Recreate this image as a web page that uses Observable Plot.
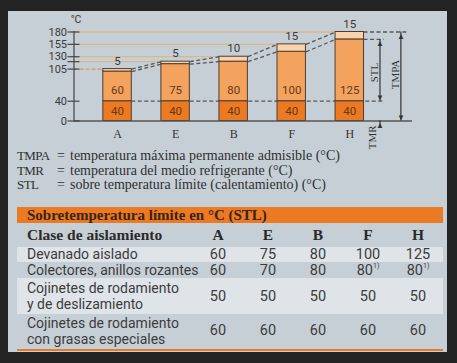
<!DOCTYPE html>
<html><head><meta charset="utf-8">
<script src="https://cdn.jsdelivr.net/npm/d3@7"></script>
<script src="https://cdn.jsdelivr.net/npm/@observablehq/plot@0.6"></script>
<style>
html,body{margin:0;padding:0;background:#232323;width:457px;height:363px;overflow:hidden;position:relative;}
#panel{position:absolute;left:8px;top:11px;width:439px;height:341px;background:#c6cfd6;}
#chart{position:absolute;left:0;top:0;}
.leg{position:absolute;font-family:"Liberation Serif",serif;font-size:14px;color:#2f2f2f;line-height:14px;white-space:nowrap;}
.abbr{font-size:13px;letter-spacing:-0.6px;}
#table{position:absolute;left:17px;top:207px;width:426px;}
.trow{display:grid;grid-template-columns:176px 50px 50px 50px 50px 50px;align-items:center;}
.tcell{text-align:center;font-family:Roboto,sans-serif;font-size:14.5px;line-height:15px;color:#3c3c3c;white-space:nowrap;}
.tlab{padding-left:10px;font-family:Roboto,sans-serif;font-size:14px;color:#3c3c3c;line-height:16px;white-space:nowrap;}
.hdr{font-family:"Liberation Serif",serif;font-weight:bold;font-size:15.5px;color:#2a2a2a;line-height:18px;}
sup{font-size:7px;line-height:7px;vertical-align:top;}
</style></head><body>
<div id="panel"></div>
<div id="chart"></div>
<div id="legend"></div>
<div id="table"></div>
<script>
// ---- chart data ----
const categories = ["A", "E", "B", "F", "H"];
const tmr = [40, 40, 40, 40, 40];
const stl = [60, 75, 80, 100, 125];
const reserve = [5, 5, 10, 15, 15];
const yTickValues = [0, 40, 105, 120, 130, 155, 180];
const yTickLabels = ["0", "40", "105", "", "130", "155", "180"];

// ---- legend ----
const legendAbbr = ["TMPA", "TMR", "STL"];
const legendText = [
  "temperatura máxima permanente admisible (°C)",
  "temperatura del medio refrigerante (°C)",
  "sobre temperatura límite (calentamiento) (°C)"
];

// ---- table data ----
const tableTitle = "Sobretemperatura límite en °C (STL)";
const tableHeader = "Clase de aislamiento";
const tableClasses = ["A", "E", "B", "F", "H"];
const rowLabels = [
  ["Devanado aislado"],
  ["Colectores, anillos rozantes"],
  ["Cojinetes de rodamiento", "y de deslizamiento"],
  ["Cojinetes de rodamiento", "con grasas especiales"]
];
const rowValues = [
  ["60", "75", "80", "100", "125"],
  ["60", "70", "80", "80", "80"],
  ["50", "50", "50", "50", "50"],
  ["60", "60", "60", "60", "60"]
];
const rowNotes = [
  ["", "", "", "", ""],
  ["", "", "", "1)", "1)"],
  ["", "", "", "", ""],
  ["", "", "", "", ""]
];

// ---- build chart ----
const bars = categories.map((c, i) => ({
  c, i, tmr: tmr[i], stl: stl[i], res: reserve[i],
  stlTop: tmr[i] + stl[i], total: tmr[i] + stl[i] + reserve[i]
}));
const last = bars[bars.length - 1];
const pairs = bars.slice(0, -1).map((a, k) => ({a, b: bars[k + 1]}));
const hw = 0.245;        // half bar width (band units)
const axisX = -0.75;     // position of the y axis
const stlX = 4.52, tmpaX = 4.88;
const dash = "#575757";
const guide = "#d9b98c";
const serif = "Liberation Serif, serif";
const sans = "Roboto, sans-serif";
const labeledTicks = yTickValues.filter((d, i) => yTickLabels[i] !== "");

const plot = Plot.plot({
  width: 457, height: 155,
  marginLeft: 73.5, marginRight: 45, marginTop: 31.5, marginBottom: 34.5,
  style: {background: "transparent", overflow: "visible"},
  x: {type: "linear", domain: [axisX, 5.08]},
  y: {domain: [0, 180]},
  marks: [
    // guide lines from axis to bar tops
    Plot.ruleY(bars.slice(1), {y: "total", x1: axisX, x2: "i", stroke: guide, strokeWidth: 1.3}),
    Plot.ruleY(bars.slice(0, 1), {y: "total", x1: axisX, x2: "i", stroke: "#d99a55", strokeWidth: 1.3, strokeDasharray: "4,2"}),
    // dashed TMR line
    Plot.ruleY([tmr[0]], {x1: hw, x2: stlX + 0.07, stroke: dash, strokeWidth: 1.3, strokeDasharray: "4,2.5"}),
    // dashed connectors
    Plot.link(pairs, {x1: p => p.a.i + hw, y1: p => p.a.total, x2: p => p.b.i - hw, y2: p => p.b.total, stroke: dash, strokeWidth: 1.3, strokeDasharray: "4,2.5"}),
    Plot.link(pairs, {x1: p => p.a.i + hw, y1: p => p.a.stlTop, x2: p => p.b.i - hw, y2: p => p.b.stlTop, stroke: dash, strokeWidth: 1.3, strokeDasharray: "4,2.5"}),
    Plot.ruleY([last], {y: "total", x1: d => d.i + hw, x2: tmpaX + 0.1, stroke: dash, strokeWidth: 1.3, strokeDasharray: "4,2.5"}),
    Plot.ruleY([last], {y: "stlTop", x1: d => d.i + hw, x2: stlX + 0.07, stroke: dash, strokeWidth: 1.3, strokeDasharray: "4,2.5"}),
    // stacked bars
    Plot.rect(bars, {x1: d => d.i - hw, x2: d => d.i + hw, y1: 0, y2: "tmr", fill: "#ec7a22", stroke: "#4d3e35", strokeWidth: 1}),
    Plot.rect(bars, {x1: d => d.i - hw, x2: d => d.i + hw, y1: "tmr", y2: "stlTop", fill: "#f4a35e", stroke: "#4d3e35", strokeWidth: 1}),
    Plot.rect(bars, {x1: d => d.i - hw, x2: d => d.i + hw, y1: "stlTop", y2: "total", fill: "#fbd3ab", stroke: "#4d3e35", strokeWidth: 1}),
    // bar labels
    Plot.text(bars, {x: "i", y: d => d.tmr / 2, text: "tmr", fill: "#6a3714", fontSize: 11.5, fontFamily: sans}),
    Plot.text(bars, {x: "i", y: 63, text: "stl", fill: "#6a3714", fontSize: 11.5, fontFamily: sans}),
    Plot.text(bars, {x: "i", y: "total", dy: -8, text: "res", fill: "#3a3a3a", fontSize: 11.5, fontFamily: sans}),
    // baseline and y axis
    Plot.ruleY([0], {stroke: "#555", strokeWidth: 1.3}),
    Plot.ruleX([axisX], {y1: 0, y2: 181, stroke: "#444", strokeWidth: 1.2}),
    Plot.ruleY(yTickValues, {x1: axisX, x2: axisX, insetLeft: -6, insetRight: -6, stroke: "#444", strokeWidth: 1.2}),
    Plot.axisY(labeledTicks, {tickSize: 0, tickPadding: 7, tickFormat: d => yTickLabels[yTickValues.indexOf(d)], fontSize: 11, fontFamily: sans, fill: "#3a3a3a", label: null}),
    Plot.text(["°C"], {x: axisX, y: 180, dy: -12, dx: 2, text: d => d, fontSize: 10.5, fontFamily: sans, fill: "#3a3a3a"}),
    Plot.axisX(bars.map(d => d.i), {tickSize: 0, tickPadding: 8, tickFormat: i => categories[i], fontSize: 12, fontFamily: serif, fill: "#333", label: null}),
    // STL arrow
    Plot.ruleX([last], {x: stlX, y1: "tmr", y2: "stlTop", stroke: "#333", strokeWidth: 1.2}),
    Plot.text([last], {x: stlX, y: "stlTop", dy: 4, text: () => "▲", fontSize: 8, fill: "#333"}),
    Plot.text([last], {x: stlX, y: "tmr", dy: -4, text: () => "▼", fontSize: 8, fill: "#333"}),
    Plot.text([last], {x: stlX - 0.09, y: 98, text: () => "STL", rotate: -90, fontSize: 11, fontFamily: serif, fill: "#333"}),
    // TMPA arrow
    Plot.ruleX([last], {x: tmpaX, y1: 0, y2: "total", stroke: "#333", strokeWidth: 1.2}),
    Plot.text([last], {x: tmpaX, y: "total", dy: 4, text: () => "▲", fontSize: 8, fill: "#333"}),
    Plot.text([last], {x: tmpaX, y: 0, dy: -4, text: () => "▼", fontSize: 8, fill: "#333"}),
    Plot.text([last], {x: tmpaX - 0.09, y: 94, text: () => "TMPA", rotate: -90, fontSize: 11, fontFamily: serif, fill: "#333"}),
    // TMR arrow
    Plot.ruleX([last], {x: stlX, y1: -10, y2: 0, stroke: "#333", strokeWidth: 1.2}),
    Plot.text([last], {x: stlX, y: 0, dy: 4, text: () => "▲", fontSize: 8, fill: "#333"}),
    Plot.text([last], {x: stlX - 0.13, y: -9, text: () => "TMR", rotate: -90, textAnchor: "end", fontSize: 11, fontFamily: serif, fill: "#333"})
  ]
});
document.getElementById("chart").appendChild(plot);

// ---- legend ----
const leg = document.getElementById("legend");
legendAbbr.forEach((a, k) => {
  const top = 149 + k * 14.5;
  leg.insertAdjacentHTML("beforeend",
    `<div class="leg abbr" style="left:17px;top:${top}px">${a}</div>` +
    `<div class="leg" style="left:57px;top:${top}px">=</div>` +
    `<div class="leg" style="left:70px;top:${top}px">${legendText[k]}</div>`);
});

// ---- table ----
const tbl = document.getElementById("table");
let html = `<div style="height:16px;background:#ec7a22;line-height:16px;padding-left:10px;font-family:'Liberation Serif',serif;font-weight:bold;font-size:15px;color:#3a2412;white-space:nowrap">${tableTitle}</div>`;
html += `<div class="trow" style="height:24px"><div class="tlab hdr">${tableHeader}</div>${tableClasses.map(c => `<div class="tcell hdr">${c}</div>`).join("")}</div>`;
const rowH = [15, 16, 36, 33];
rowLabels.forEach((lab, r) => {
  const bg = r % 2 === 0 ? "#dfe4e8" : "transparent";
  const lh = lab.length > 1 ? 16 : 15;
  html += `<div class="trow" style="height:${rowH[r]}px;background:${bg}"><div class="tlab" style="line-height:${lh}px">${lab.join("<br>")}</div>` +
    rowValues[r].map((v, c) => `<div class="tcell">${v}${rowNotes[r][c] ? `<sup>${rowNotes[r][c]}</sup>` : ""}</div>`).join("") + `</div>`;
});
html += `<div style="height:2px;margin-top:2px;background:#ec7a22"></div>`;
tbl.innerHTML = html;
</script>
</body></html>
